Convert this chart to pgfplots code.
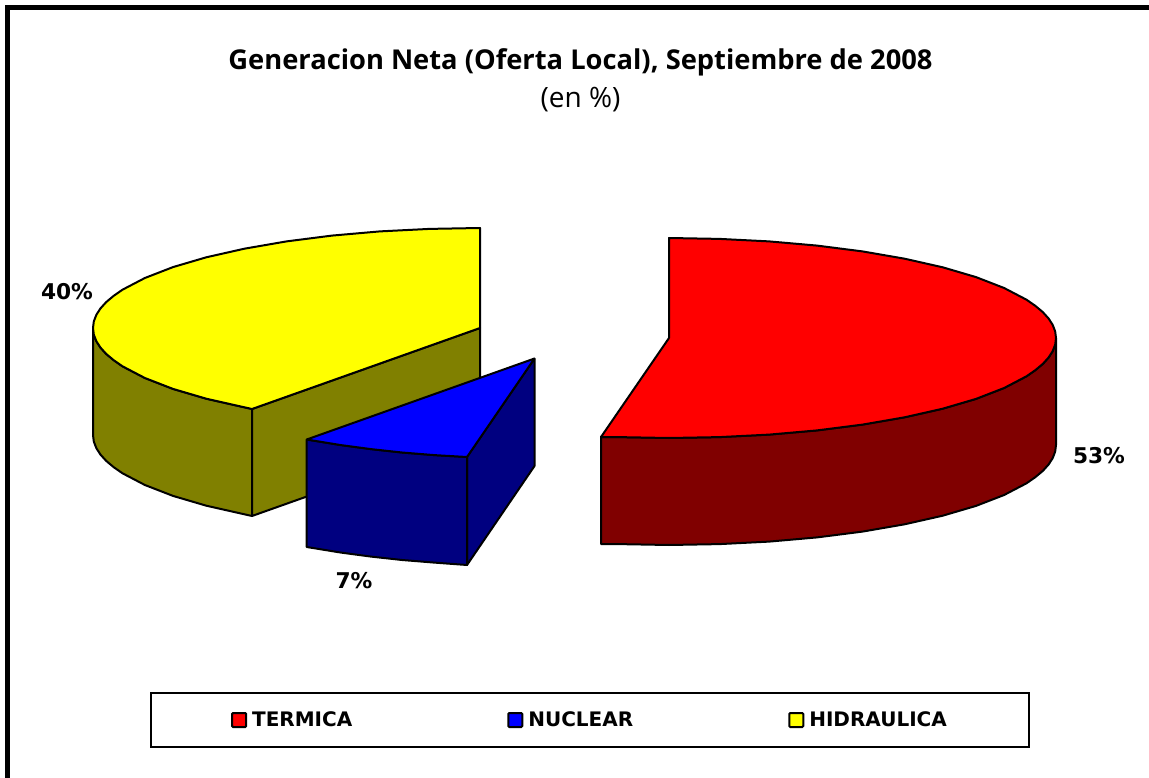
\documentclass[border=0pt]{standalone}
\usepackage{pgfplots}
\pgfplotsset{compat=1.18}
\usepackage{fontspec}
\setmainfont{Open Sans}
\newfontfamily\dejabold[BoldFont={DejaVu Sans Bold}]{DejaVu Sans}
\definecolor{pyellow}{RGB}{255,255,0}
\definecolor{pred}{RGB}{255,0,0}
\definecolor{pblue}{RGB}{0,0,255}
\definecolor{dkred}{RGB}{128,0,0}
\definecolor{dkblue}{RGB}{0,0,128}
\definecolor{dkyellow}{RGB}{128,128,0}
\begin{document}
\begin{tikzpicture}[x=1pt,y=1pt]
\begin{axis}[
  scale only axis, width=1149pt, height=778pt,
  xmin=0, xmax=1149, ymin=0, ymax=778, y dir=reverse,
  axis lines=none, clip=false,
  legend columns=3,
  legend cell align=left,
  legend image code/.code={\draw[#1,line width=2pt,rounded corners=1pt] (0pt,-7pt) rectangle (14pt,7pt);\path (17pt,0pt);},
  legend style={at={(axis cs:590,720)},anchor=center,draw=black,line width=2pt,
    inner xsep=80pt,inner ysep=17pt,font=\dejabold\bfseries\fontsize{20}{24}\selectfont,
    /tikz/every even column/.append style={column sep=153pt}},
]
% outer frame (left and top edges only)
\addplot[draw=black,line width=5pt,forget plot] coordinates {(7.5,778)(7.5,7.5)(1149,7.5)};
% yellow side
\addplot[fill=dkyellow,draw=black,line width=2pt,line join=round,forget plot] coordinates {
(93,328)(93.8,334.5)(96.3,341.1)(100.4,347.5)(106.2,353.9)(113.6,360.1)(122.5,366.3)(144.9,378)(173,388.9)(206.3,398.7)(244.4,407.3)(252,409)
(252,516)(244.4,514.3)(206.3,505.7)(173,495.9)(144.9,485)(122.5,473.3)(113.6,467.1)(106.2,460.9)(100.4,454.5)(96.3,448.1)(93.8,441.5)(93,435)(93,328)};
% yellow cut face
\addplot[fill=dkyellow,draw=black,line width=2pt,line join=round,forget plot] coordinates {
(252,409)(480,328)(480,435)(252,516)(252,409)};
% yellow top
\addplot[fill=pyellow,draw=black,line width=2pt,line join=round,forget plot] coordinates {
(480,328)(480,228)(429.5,228.9)(379.8,231.4)(331.9,235.6)(286.5,241.4)(244.4,248.7)(206.3,257.3)(173,267.1)(144.9,278)(122.5,289.7)(113.6,295.9)(106.2,302.1)(100.4,308.5)(96.3,314.9)(93.8,321.5)(93,328)
(93.8,334.5)(96.3,341.1)(100.4,347.5)(106.2,353.9)(113.6,360.1)(122.5,366.3)(144.9,378)(173,388.9)(206.3,398.7)(244.4,407.3)(252,409)(480,328)};
% blue sides
\addplot[fill=dkblue,draw=black,line width=2pt,line join=round,forget plot] coordinates {
(467,457)(534.5,358.5)(534.5,466)(467,565)(467,457)};
\addplot[fill=dkblue,draw=black,line width=2pt,line join=round,forget plot] coordinates {
(306.7,439.5)(341,445.1)(371,449.1)(402.1,452.5)(434.3,455.1)(467,457)
(467,565)(434.3,562.6)(402.1,560)(371,556.6)(341,552.6)(306.7,547)(306.7,439.5)};
% blue top
\addplot[fill=pblue,draw=black,line width=2pt,line join=round,forget plot] coordinates {
(534.5,358.5)(467,457)(434.3,455.1)(402.1,452.5)(371,449.1)(341,445.1)(306.7,439.5)(534.5,358.5)};
% red side
\addplot[fill=dkred,draw=black,line width=2pt,line join=round,forget plot] coordinates {
(1056,338)(1055.2,344.5)(1052.7,351.1)(1048.6,357.5)(1042.8,363.9)(1035.4,370.1)(1026.5,376.3)(1004.1,388)(976,398.9)(942.7,408.7)(904.6,417.3)(862.5,424.6)(817.1,430.4)(769.2,434.6)(719.5,437.1)(669,438)(618.5,437.1)(601,437)
(601,544)(618.5,544.1)(669,545)(719.5,544.1)(769.2,541.6)(817.1,537.4)(862.5,531.6)(904.6,524.3)(942.7,515.7)(976,505.9)(1004.1,495)(1026.5,483.3)(1035.4,477.1)(1042.8,470.9)(1048.6,464.5)(1052.7,458.1)(1055.2,451.5)(1056,445)(1056,338)};
% red top
\addplot[fill=pred,draw=black,line width=2pt,line join=round,forget plot] coordinates {
(669,338)(669,238)(719.5,238.9)(769.2,241.4)(817.1,245.6)(862.5,251.4)(904.6,258.7)(942.7,267.3)(976,277.1)(1004.1,288)(1026.5,299.7)(1035.4,305.9)(1042.8,312.1)(1048.6,318.5)(1052.7,324.9)(1055.2,331.5)(1056,338)
(1055.2,344.5)(1052.7,351.1)(1048.6,357.5)(1042.8,363.9)(1035.4,370.1)(1026.5,376.3)(1004.1,388)(976,398.9)(942.7,408.7)(904.6,417.3)(862.5,424.6)(817.1,430.4)(769.2,434.6)(719.5,437.1)(669,438)(618.5,437.1)(601,437)(669,338)};
\addlegendimage{fill=pred,draw=black}\addlegendentry{TERMICA}
\addlegendimage{fill=pblue,draw=black}\addlegendentry{NUCLEAR}
\addlegendimage{fill=pyellow,draw=black}\addlegendentry{HIDRAULICA}
\node[font=\bfseries\fontsize{27.3}{32}\selectfont] at (axis cs:580.5,62) {Generacion Neta (Oferta Local), Septiembre de 2008};
\node[font=\fontsize{28}{34}\selectfont] at (axis cs:580.5,100) {(en \%)};
\node[font=\dejabold\bfseries\fontsize{21.7}{26}\selectfont] at (axis cs:67,292) {40\%};
\node[font=\dejabold\bfseries\fontsize{21.7}{26}\selectfont] at (axis cs:1099,456) {53\%};
\node[font=\dejabold\bfseries\fontsize{21.7}{26}\selectfont] at (axis cs:354,581) {7\%};
\end{axis}
\pgfresetboundingbox
\useasboundingbox (0pt,0pt) rectangle (1149pt,778pt);
\end{tikzpicture}
\end{document}
